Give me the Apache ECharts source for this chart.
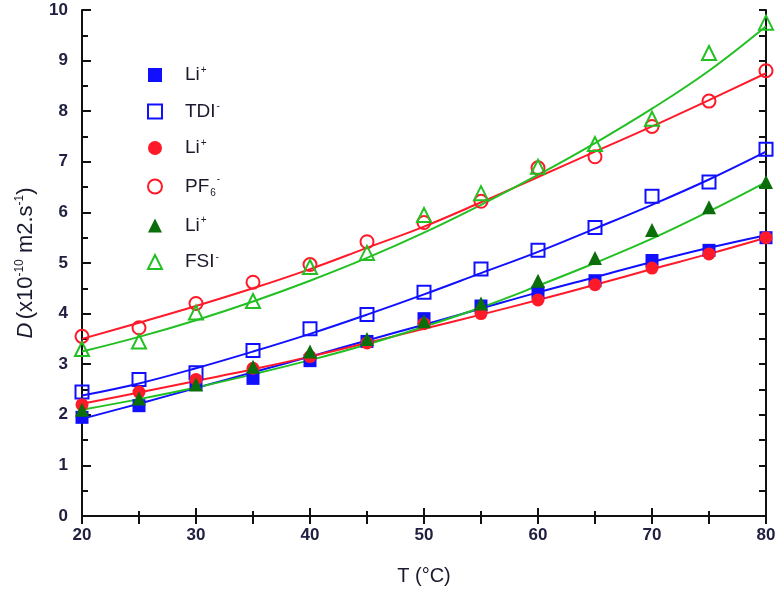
<!DOCTYPE html>
<html><head><meta charset="utf-8">
<script src="https://cdn.jsdelivr.net/npm/echarts@6/dist/echarts.min.js"></script>
<style>html,body{margin:0;padding:0;background:#fff}#c{width:782px;height:591px}</style>
</head><body><div id="c"></div>
<script>
var temps = [20,25,30,35,40,45,50,55,60,65,70,75,80];
var liTDI  = [1.95,2.18,2.6,2.72,3.07,3.45,3.9,4.15,4.42,4.65,5.05,5.25,5.5];
var tdi    = [2.45,2.7,2.83,3.27,3.7,3.98,4.42,4.88,5.25,5.7,6.32,6.6,7.25];
var liPF6  = [2.2,2.45,2.7,2.92,3.15,3.42,3.8,4.0,4.27,4.57,4.9,5.18,5.5];
var pf6    = [3.55,3.72,4.2,4.62,4.97,5.42,5.8,6.22,6.88,7.1,7.7,8.2,8.8];
var liFSI  = [2.1,2.32,2.6,2.95,3.25,3.5,3.85,4.2,4.65,5.1,5.65,6.1,6.6];
var fsi    = [3.3,3.45,4.02,4.25,4.92,5.2,5.95,6.38,6.9,7.35,7.85,9.15,9.75];
// fitted curves
var fitLiTDI = [1.92,2.22,2.53,2.84,3.15,3.47,3.78,4.1,4.42,4.72,5.02,5.3,5.55];
var fitTDI   = [2.38,2.62,2.92,3.25,3.6,3.98,4.38,4.8,5.22,5.68,6.15,6.65,7.2];
var fitLiPF6 = [2.22,2.44,2.67,2.9,3.15,3.42,3.7,3.98,4.27,4.57,4.88,5.18,5.5];
var fitPF6   = [3.5,3.82,4.15,4.5,4.88,5.3,5.72,6.2,6.7,7.2,7.7,8.22,8.75];
var fitLiFSI = [2.1,2.31,2.54,2.8,3.08,3.39,3.74,4.12,4.55,5.0,5.48,6.02,6.6];
var fitFSI   = [3.25,3.54,3.87,4.24,4.65,5.1,5.6,6.15,6.74,7.37,8.05,8.8,9.68];
var legendLabels = {
  'LiTDI':'{t|Li}{s|+}', 'TDI':'{t|TDI}{s|-}',
  'LiPF6':'{t|Li}{s|+}', 'PF6':'{t|PF}{b|6}{s|-}',
  'LiFSI':'{t|Li}{s|+}', 'FSI':'{t|FSI}{s|-}'
};

function pairs(ys){ return temps.map(function(t,i){ return [t, ys[i]]; }); }

var BLUE='#1010ff', RED='#ff1a2a', GREEN='#22c022', DGREEN='#0a6e0a';
function fit(name, ys, color){
  return {type:'line', name:name+'_fit', data:pairs(ys), smooth:0.4, showSymbol:false,
    symbol:'none', lineStyle:{color:color, width:2}, z:2, silent:true};
}
function pts(name, ys, symbol, color, open, size){
  return {type:'scatter', name:name, data:pairs(ys), symbol:symbol, symbolSize:size||12, z:5,
    itemStyle: open ? {color:'rgba(255,255,255,0)', borderColor:color, borderWidth:2, opacity:1}
                    : {color:color, borderColor:color, borderWidth:0, opacity:1}};
}

var chart = echarts.init(document.getElementById('c'));
var FONT = 'Liberation Sans, Arial';
var labelStyle = {color:'#202040', fontFamily:FONT, fontSize:17, fontWeight:'bold'};
var tickStyle = {color:'#111', width:2};
chart.setOption({
  animation:false,
  backgroundColor:'#fff',
  grid:{left:82, right:16, top:10, bottom:73},
  legend:{
    orient:'vertical', left:142, top:60, itemWidth:14, itemHeight:14, itemGap:17,
    data:['LiTDI','TDI','LiPF6','PF6','LiFSI','FSI'],
    formatter:function(n){ return legendLabels[n]; },
    textStyle:{padding:[0,0,0,18], rich:{
      t:{fontFamily:FONT, fontSize:19, color:'#1a1a2e'},
      s:{fontFamily:FONT, fontSize:10, color:'#1a1a2e', verticalAlign:'top', padding:[0,0,10,1]},
      b:{fontFamily:FONT, fontSize:10, color:'#1a1a2e', verticalAlign:'bottom', padding:[14,0,0,1]}
    }}
  },
  xAxis:[{
    type:'value', min:20, max:80, interval:10, position:'bottom',
    name:'T (°C)', nameLocation:'middle', nameGap:50,
    nameTextStyle:{fontFamily:FONT, fontSize:20, color:'#1a1a2e'},
    axisLine:{lineStyle:{color:'#111', width:2}},
    axisTick:{inside:true, length:8, lineStyle:tickStyle},
    minorTick:{show:true, splitNumber:2, length:5, lineStyle:tickStyle},
    axisLabel:Object.assign({margin:11}, labelStyle),
    splitLine:{show:false}, minorSplitLine:{show:false}
  },{
    type:'value', min:20, max:80, interval:10, position:'top',
    axisLine:{lineStyle:{color:'#111', width:2}},
    axisTick:{inside:true, length:8, lineStyle:tickStyle},
    minorTick:{show:true, splitNumber:2, length:8, lineStyle:tickStyle},
    axisLabel:{show:false}, splitLine:{show:false}, minorSplitLine:{show:false}
  }],
  yAxis:[{
    type:'value', min:0, max:10, interval:1, position:'left',
    name:'{i|D} {n|(x10}{s|-10}{n| m2.s}{s|-1}{n|)}', nameLocation:'middle', nameGap:44,
    nameTextStyle:{rich:{
      i:{fontFamily:FONT, fontSize:22, fontStyle:'italic', color:'#1a1a2e'},
      n:{fontFamily:FONT, fontSize:22, color:'#1a1a2e'},
      s:{fontFamily:FONT, fontSize:12, color:'#1a1a2e', verticalAlign:'top', padding:[0,0,12,0]}
    }},
    axisLine:{lineStyle:{color:'#111', width:2}},
    axisTick:{inside:true, length:9, lineStyle:tickStyle},
    minorTick:{show:true, splitNumber:2, length:6, lineStyle:tickStyle},
    axisLabel:Object.assign({margin:14}, labelStyle),
    splitLine:{show:false}, minorSplitLine:{show:false}
  },{
    type:'value', min:0, max:10, interval:1, position:'right',
    axisLine:{lineStyle:{color:'#111', width:2}},
    axisTick:{inside:true, length:7, lineStyle:tickStyle},
    minorTick:{show:true, splitNumber:2, length:7, lineStyle:tickStyle},
    axisLabel:{show:false}, splitLine:{show:false}, minorSplitLine:{show:false}
  }],
  series:[
    fit('LiTDI', fitLiTDI, BLUE), fit('TDI', fitTDI, BLUE),
    fit('LiPF6', fitLiPF6, RED), fit('PF6', fitPF6, RED),
    fit('LiFSI', fitLiFSI, GREEN), fit('FSI', fitFSI, GREEN),
    pts('LiTDI', liTDI, 'rect', BLUE, false, 13),
    pts('TDI', tdi, 'rect', BLUE, true, 13),
    pts('LiPF6', liPF6, 'circle', RED, false, 13),
    pts('PF6', pf6, 'circle', RED, true, 13),
    pts('LiFSI', liFSI, 'triangle', DGREEN, false, 14),
    pts('FSI', fsi, 'triangle', GREEN, true, 14)
  ]
});
</script></body></html>
